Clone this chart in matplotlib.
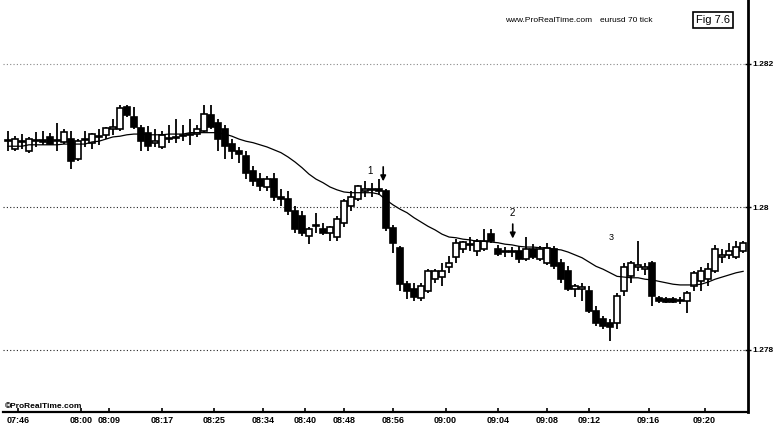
import matplotlib
matplotlib.use("Agg")
import matplotlib.pyplot as plt
from matplotlib.patches import Rectangle

plt.rcParams['font.family'] = ['Liberation Sans', 'DejaVu Sans']

# ---------------- data (eurusd 70 tick) ----------------
opens = [1.28092, 1.28081, 1.28091, 1.28078, 1.28092, 1.28094, 1.28098, 1.28092, 1.28091, 1.28095,
         1.28067, 1.28094, 1.28090, 1.28098, 1.28101, 1.28109, 1.28109, 1.28140, 1.28126, 1.28111,
         1.28104, 1.28090, 1.28084, 1.28095, 1.28097, 1.28099, 1.28101, 1.28102, 1.28106, 1.28129,
         1.28118, 1.28109, 1.28088, 1.28078, 1.28071, 1.28050, 1.28039, 1.28028, 1.28039, 1.28014,
         1.28011, 1.27994, 1.27987, 1.27959, 1.27973, 1.27969, 1.27964, 1.27958, 1.27978, 1.28001,
         1.28011, 1.28022, 1.28025, 1.28025, 1.28022, 1.27971, 1.27943, 1.27892, 1.27885, 1.27873,
         1.27882, 1.27899, 1.27902, 1.27916, 1.27930, 1.27941, 1.27947, 1.27938, 1.27941, 1.27962,
         1.27941, 1.27938, 1.27938, 1.27938, 1.27927, 1.27941, 1.27927, 1.27922, 1.27941, 1.27922,
         1.27910, 1.27885, 1.27885, 1.27882, 1.27854, 1.27843, 1.27838, 1.27838, 1.27882, 1.27903,
         1.27916, 1.27913, 1.27922, 1.27873, 1.27871, 1.27871, 1.27870, 1.27868, 1.27889, 1.27896,
         1.27899, 1.27910, 1.27930, 1.27933, 1.27930, 1.27938]
highs = [1.28106, 1.28099, 1.28102, 1.28098, 1.28105, 1.28106, 1.28104, 1.28118, 1.28109, 1.28106,
         1.28095, 1.28106, 1.28104, 1.28109, 1.28112, 1.28123, 1.28143, 1.28143, 1.28140, 1.28115,
         1.28113, 1.28109, 1.28106, 1.28115, 1.28123, 1.28115, 1.28123, 1.28115, 1.28143, 1.28143,
         1.28123, 1.28115, 1.28095, 1.28084, 1.28078, 1.28057, 1.28048, 1.28043, 1.28048, 1.28025,
         1.28022, 1.28001, 1.27994, 1.27972, 1.27992, 1.27978, 1.27973, 1.27987, 1.28011, 1.28022,
         1.28031, 1.28036, 1.28034, 1.28039, 1.28025, 1.27975, 1.27945, 1.27896, 1.27894, 1.27894,
         1.27913, 1.27913, 1.27922, 1.27931, 1.27955, 1.27952, 1.27958, 1.27955, 1.27969, 1.27969,
         1.27947, 1.27944, 1.27944, 1.27945, 1.27958, 1.27948, 1.27945, 1.27950, 1.27945, 1.27927,
         1.27917, 1.27892, 1.27894, 1.27889, 1.27861, 1.27847, 1.27843, 1.27880, 1.27922, 1.27924,
         1.27952, 1.27922, 1.27924, 1.27875, 1.27874, 1.27874, 1.27874, 1.27882, 1.27910, 1.27916,
         1.27922, 1.27947, 1.27941, 1.27950, 1.27952, 1.27952]
lows = [1.28078, 1.28078, 1.28081, 1.28076, 1.28084, 1.28087, 1.28087, 1.28078, 1.28088, 1.28053,
        1.28064, 1.28084, 1.28081, 1.28087, 1.28095, 1.28101, 1.28106, 1.28126, 1.28109, 1.28078,
        1.28078, 1.28084, 1.28081, 1.28090, 1.28090, 1.28092, 1.28087, 1.28098, 1.28104, 1.28109,
        1.28078, 1.28067, 1.28067, 1.28062, 1.28039, 1.28029, 1.28022, 1.28022, 1.28008, 1.28001,
        1.27989, 1.27964, 1.27959, 1.27948, 1.27964, 1.27961, 1.27952, 1.27952, 1.27972, 1.27994,
        1.28008, 1.28014, 1.28014, 1.28017, 1.27966, 1.27936, 1.27882, 1.27871, 1.27868, 1.27868,
        1.27880, 1.27894, 1.27889, 1.27908, 1.27922, 1.27936, 1.27938, 1.27931, 1.27938, 1.27950,
        1.27931, 1.27930, 1.27930, 1.27922, 1.27924, 1.27927, 1.27924, 1.27919, 1.27913, 1.27894,
        1.27882, 1.27874, 1.27868, 1.27852, 1.27833, 1.27829, 1.27812, 1.27829, 1.27875, 1.27894,
        1.27910, 1.27905, 1.27861, 1.27866, 1.27866, 1.27866, 1.27864, 1.27852, 1.27882, 1.27882,
        1.27889, 1.27908, 1.27922, 1.27927, 1.27927, 1.27936]
closes = [1.28094, 1.28095, 1.28092, 1.28095, 1.28094, 1.28091, 1.28088, 1.28094, 1.28105, 1.28064,
          1.28092, 1.28095, 1.28102, 1.28099, 1.28111, 1.28112, 1.28139, 1.28129, 1.28112, 1.28092,
          1.28085, 1.28092, 1.28101, 1.28097, 1.28098, 1.28101, 1.28102, 1.28109, 1.28130, 1.28112,
          1.28095, 1.28085, 1.28078, 1.28074, 1.28048, 1.28036, 1.28029, 1.28039, 1.28014, 1.28011,
          1.27994, 1.27969, 1.27964, 1.27969, 1.27975, 1.27964, 1.27972, 1.27983, 1.28008, 1.28014,
          1.28029, 1.28025, 1.28024, 1.28022, 1.27971, 1.27950, 1.27892, 1.27882, 1.27874, 1.27889,
          1.27910, 1.27910, 1.27910, 1.27922, 1.27950, 1.27951, 1.27948, 1.27952, 1.27952, 1.27952,
          1.27934, 1.27937, 1.27937, 1.27927, 1.27941, 1.27930, 1.27941, 1.27943, 1.27917, 1.27899,
          1.27885, 1.27889, 1.27888, 1.27854, 1.27838, 1.27833, 1.27832, 1.27875, 1.27916, 1.27922,
          1.27919, 1.27916, 1.27875, 1.27868, 1.27867, 1.27867, 1.27868, 1.27880, 1.27908, 1.27910,
          1.27913, 1.27941, 1.27933, 1.27938, 1.27944, 1.27950]
moving_avg = [1.28085, 1.28085, 1.28085, 1.28087, 1.28087, 1.28087, 1.28087, 1.28087, 1.28088, 1.28088,
              1.28088, 1.28088, 1.28091, 1.28092, 1.28095, 1.28098, 1.28099, 1.28101, 1.28102, 1.28102,
              1.28101, 1.28101, 1.28101, 1.28102, 1.28102, 1.28102, 1.28104, 1.28104, 1.28104, 1.28104,
              1.28104, 1.28102, 1.28099, 1.28095, 1.28092, 1.28090, 1.28087, 1.28084, 1.28080, 1.28076,
              1.28070, 1.28063, 1.28055, 1.28046, 1.28039, 1.28034, 1.28028, 1.28024, 1.28021, 1.28020,
              1.28020, 1.28020, 1.28020, 1.28018, 1.28010, 1.28003, 1.27997, 1.27992, 1.27985, 1.27979,
              1.27973, 1.27968, 1.27962, 1.27958, 1.27957, 1.27955, 1.27954, 1.27952, 1.27952, 1.27951,
              1.27950, 1.27948, 1.27947, 1.27945, 1.27944, 1.27944, 1.27943, 1.27943, 1.27941, 1.27940,
              1.27937, 1.27933, 1.27929, 1.27923, 1.27917, 1.27913, 1.27908, 1.27903, 1.27902, 1.27901,
              1.27901, 1.27899, 1.27898, 1.27896, 1.27894, 1.27892, 1.27891, 1.27891, 1.27891, 1.27892,
              1.27895, 1.27899, 1.27902, 1.27905, 1.27908, 1.27910]

time_labels = ["07:46", "08:00", "08:09", "08:17", "08:25", "08:34", "08:40", "08:48",
               "08:56", "09:00", "09:04", "09:08", "09:12", "09:16", "09:20"]
time_label_bar = [1.5, 10.5, 14.5, 22, 29.5, 36.5, 42.5, 48, 55, 62.5, 70, 77, 83, 91.5, 99.5]
price_ticks = [1.282, 1.280, 1.278]
price_tick_labels = ["1.282", "1.28", "1.278"]

# ---------------- figure ----------------
W, H = 782, 442
fig = plt.figure(figsize=(W / 100, H / 100), dpi=100)
ax = fig.add_axes([3 / W, 1 - 412 / H, (748 - 3) / W, 412 / H])

ymin = 1.282 - (412 - 64) / 71500.0
ymax = 1.282 + 64 / 71500.0
ax.set_ylim(ymin, ymax)
ax.set_xlim(-0.7, 105.7)

# grid lines (dotted)
grid_colors = ["#888888", "#222222", "#222222"]
for p, gc in zip(price_ticks, grid_colors):
    ax.axhline(p, color=gc, lw=0.8, ls=(0, (1, 2)), zorder=0)

xs = list(range(len(opens)))
body_w = 0.8
min_h = 0.000009
for i, o, h, l, c in zip(xs, opens, highs, lows, closes):
    ax.vlines(i, l, h, color="black", lw=1.3, zorder=2)
    fc = "black" if c < o else "white"
    if abs(c - o) > min_h:
        bottom, height = min(o, c), abs(c - o)
    else:
        bottom, height = (o + c) / 2 - min_h / 2, min_h
    ax.add_patch(Rectangle((i - body_w / 2, bottom), body_w, height,
                           facecolor=fc, edgecolor="black", lw=1.2, zorder=3))

ax.plot(xs, moving_avg, color="black", lw=0.9, zorder=4)

# annotations
ax.text(51.7, 1.28050, "1", fontsize=7, ha="center", va="center")
ax.annotate("", xy=(53.6, 1.28032), xytext=(53.6, 1.28060),
            arrowprops=dict(arrowstyle="-|>", color="black", lw=1.2, mutation_scale=8))
ax.text(72.0, 1.27992, "2", fontsize=7, ha="center", va="center")
ax.annotate("", xy=(72.1, 1.27952), xytext=(72.1, 1.27980),
            arrowprops=dict(arrowstyle="-|>", color="black", lw=1.2, mutation_scale=8))
ax.text(86.1, 1.27958, "3", fontsize=6.5, ha="center", va="center")

# spines
for s in ["left", "top"]:
    ax.spines[s].set_visible(False)
ax.spines["right"].set_linewidth(2.0)
ax.spines["bottom"].set_linewidth(1.6)

ax.yaxis.tick_right()
ax.set_yticks(price_ticks)
ax.set_yticklabels(price_tick_labels, fontsize=6, fontweight="bold")
ax.tick_params(axis="y", direction="inout", length=5, width=1, pad=1)

ax.set_xticks(time_label_bar)
ax.set_xticklabels(time_labels, fontsize=6.5, fontweight="bold")
ax.tick_params(axis="x", direction="in", length=3, width=1.2, pad=3)

# header texts
fig.text(505 / W, 1 - 21 / H, "www.ProRealTime.com", fontsize=6, ha="left", va="center")
fig.text(600 / W, 1 - 21 / H, "eurusd 70 tick", fontsize=6, ha="left", va="center")
fig.text(713 / W, 1 - 20 / H, "Fig 7.6", fontsize=8, ha="center", va="center",
         bbox=dict(boxstyle="square,pad=0.25", facecolor="white", edgecolor="black", lw=1.2))
fig.text(5 / W, 1 - 407 / H, "©ProRealTime.com", fontsize=6, ha="left", va="center",
         fontweight="bold")

fig.savefig("out.png", dpi=100)
